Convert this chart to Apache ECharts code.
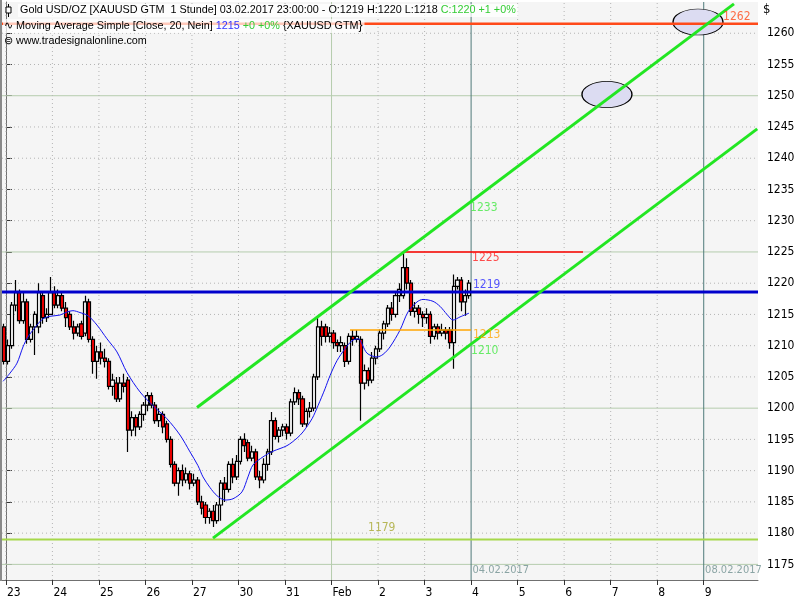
<!DOCTYPE html>
<html><head><meta charset="utf-8">
<script src="https://cdn.jsdelivr.net/npm/echarts@6/dist/echarts.min.js"></script>
<style>html,body{margin:0;padding:0;background:#fff}#c{width:800px;height:600px}</style>
</head><body><div id="c"></div>
<script>
// ---- data ----
const dayLabels = ['23','24','25','26','27','30','31','Feb','2','3','4','5','6','7','8','9'];
const dayTicks = [0,1,2,3,4,5,6,7,8,9,10,11,12,13,14,15];
const yTicks = [1175,1180,1185,1190,1195,1200,1205,1210,1215,1220,1225,1230,1235,1240,1245,1250,1255,1260];
const solidY = [1175,1200,1225,1250];
const dottedY = [1180,1185,1190,1195,1205,1210,1215,1220,1230,1235,1240,1245,1255,1260];
const dottedX = [0,1,2,3,4,5,6,8,9,11,12,13,14];
const monthX = [7];
const markerX = [10,15];
const markerText = ['04.02.2017','08.02.2017'];

// 2-hour candles (slot index 0..120)
const open = [
1213,1207.5,1210,1216.5,1218.5,1214,1217,1211,1213,1213,
1218,1214.5,1215,1218.5,1216.5,1218,1216,1215,1213,1212,
1213.5,1212,1217,1211,1207.5,1209,1208,1207.5,1203.5,1204,
1201.5,1204,1204.5,1196.5,1198.5,1197,1199,1200.5,1202,1200.5,
1198,1199,1197.5,1195,1191,1188,1190,1188.5,1189.5,1188,
1188.5,1185,1184.5,1182.5,1183.5,1182,1184.5,1188,1187,1191,
1189,1191.5,1195,1194.5,1192,1193,1189,1188.5,1191,1193,
1198,1195.5,1196.5,1197,1196,1201,1202.5,1201.5,1197.5,1199.5,
1200,1205,1213,1213,1211.5,1212,1210.5,1210,1210,1207.5,
1211.5,1211,1211,1204,1206,1204.5,1208,1209.5,1212,1213.5,
1216,1215,1218,1218,1222.5,1220,1215.5,1216,1215,1214.5,
1215,1211.5,1213,1212,1212.5,1212.5,1210.5,1219.5,1220.5,1217,1218];
const close = [
1207.5,1210,1216.5,1218.5,1214,1217,1211,1213,1215,1218.5,
1214.5,1215,1218.5,1216.5,1218,1216,1214.5,1213,1212,1213,
1211.5,1217,1211,1207.5,1209,1208,1207.5,1203.5,1204.5,1201.5,
1204,1203.5,1196.5,1198.5,1197,1199,1200.5,1202,1200.5,1198,
1199,1197,1195,1191,1188,1190,1188.5,1189.5,1188,1188.5,
1185,1184,1182.5,1183.5,1182,1184.5,1188,1187,1191,1189,
1191.5,1195,1194,1192,1193,1189,1188.5,1191,1193,1198,
1195.5,1196.5,1197,1196,1201,1202.5,1201.5,1197.5,1199.5,1200,
1205,1213,1211.5,1211.5,1212,1210.5,1210,1210.5,1207.5,1211.5,
1211,1211.5,1204,1206,1204.5,1208,1209.5,1212,1213.5,1216,
1215,1218,1219,1222.5,1220,1215.5,1216,1215,1214.5,1215,
1211.5,1213,1212,1212.5,1212,1210.5,1219.5,1220.5,1217,1218,1220];
const low = [
1207,1207,1209.5,1215.5,1213.5,1213.5,1210.3,1210.5,1208.5,1212,
1213.5,1213.8,1215,1216,1216,1215.5,1213,1212.5,1211,1211.5,
1211,1211.5,1210.5,1205.5,1204.7,1207,1206.5,1203,1202,1201,
1201,1202.5,1193,1195.5,1195.5,1196.5,1198,1199.5,1200,1197.5,
1197,1196,1194.5,1190.5,1187.5,1186,1187.5,1188,1187,1187.5,
1184.5,1183,1181.5,1181.5,1181,1181.5,1182,1185,1186.5,1188,
1188.5,1191,1193,1191.5,1191.5,1188.5,1187.2,1188,1190,1192.5,
1195,1194.5,1195.5,1195,1195.5,1200.5,1200.5,1197,1197,1198.5,
1199.5,1204.5,1210,1210.5,1210.5,1209.5,1209,1209,1206.6,1207,
1210,1210.5,1198,1203,1203.5,1204,1207,1209,1211,1213,
1214,1214.5,1217,1217.5,1219,1214.8,1214.5,1213.5,1213,1213.5,
1210.3,1211,1211,1211.5,1211,1209.5,1206.3,1219,1215.5,1214.8,1217.5];
const high = [
1213.5,1211,1217,1220.5,1219,1218.5,1217.5,1213.5,1215.5,1220,
1218.5,1216,1221,1219.5,1219,1218.5,1217,1215.5,1214,1213.5,
1214,1218,1217.5,1211.5,1210,1210.5,1209.5,1208,1205.5,1205,
1205,1205.5,1205,1199.5,1199,1199.5,1201,1202.6,1202.5,1201,
1200,1199.5,1198,1195.5,1191.5,1190.5,1191,1190.5,1190,1189.5,
1189,1186,1185,1184,1184.5,1185,1188.5,1189,1191.5,1192,
1192.5,1195.5,1196,1195,1194,1193.5,1190,1192,1193.5,1199.4,
1198.5,1197,1197.5,1197.5,1201.5,1203.3,1203,1202,1200,1201,
1205.5,1214.6,1214,1213.5,1213,1212.5,1211,1211.5,1210.5,1212,
1212.5,1212.5,1211.5,1207,1206.5,1209,1210,1212.6,1214,1216.5,
1217,1218.5,1220,1225.1,1224,1220.5,1217,1216.5,1215.5,1216,
1215.5,1213.5,1213.5,1213.5,1213,1213,1221.4,1221,1221,1219,1220.5];

// Moving average (x in days, value)
const maX = [-0.06,0.088,0.239,0.368,0.475,0.669,0.797,0.948,1.163,1.313,1.442,1.593,1.765,1.958,2.173,2.388,2.603,2.883,3.162,3.463,3.743,3.958,4.129,4.237,4.387,4.537,4.710,4.882,5.075,5.204,5.311,5.526,5.741,6.042,6.258,6.387,6.580,6.709,6.860,6.967,7.117,7.289,7.440,7.569,7.762,7.977,8.106,8.257,8.472,8.644,8.837,8.966,9.181,9.331,9.482,9.611,9.761,9.955];
const maV = [1204.3,1205.6,1207.2,1209.8,1211.4,1213.3,1214.3,1214.7,1214.9,1215.4,1215.6,1215.3,1214.8,1213.3,1211.1,1209,1205.7,1202.6,1200.4,1198.3,1195.7,1193,1190.8,1189,1187.3,1186,1185.3,1185.5,1186.6,1189,1190.9,1192.2,1193.1,1194,1195.2,1196.2,1198.3,1200.4,1203.1,1205.2,1207.6,1209.5,1210.8,1211.1,1208.8,1208.2,1208.6,1209.8,1212.5,1215.4,1217,1217.4,1217.1,1216.3,1215,1214.1,1214.6,1215.2];

// drawn lines (days, price)
const upperChannel = [[4.108,1200.1],[15.65,1264.7]];
const lowerChannel = [[4.452,1179.2],[16.15,1244.7]];
const redTop = [[-0.0833,1261.5],[16.1667,1261.5]];
const red1225 = [[8.579,1225],[12.405,1225]];
const blue1219 = [[-0.0833,1218.6],[16.1667,1218.6]];
const orange1213 = [[7.397,1212.5],[9.998,1212.5]];
const green1179 = [[-0.0833,1179],[16.1667,1179]];
const ellipses = [[14.877,1261.8],[12.92,1250.2]];

// level labels
const lvlText = ['1262','1233','1225','1219','1213','1210','1179'];
const lvlX = [15.415,9.977,10.02,10.04,10.04,9.998,7.784];
const lvlY = [1262.6,1232.0,1224.1,1219.7,1211.7,1209.2,1180.8];
const lvlColor = ['#ff4a1a','#44e844','#ff2020','#2a2aff','#ffa500','#44e844','#a8a830'];

// ---- chart ----
const N = 195, XMIN = -1/12, XMAX = 194/12;
const cats = Array.from({length:N}, (_, i) => String(i));
const candleData = open.map((o, i) => [o, close[i], low[i], high[i]]);
const NARROW = "'Liberation Sans Narrow','DejaVu Sans Condensed','Liberation Sans',sans-serif";
const HFONT = "10.8px 'Liberation Sans', sans-serif";

const series = [];
function seg(data, color, width, type, z) {
  series.push({type:'line', xAxisIndex:1, data:data, symbol:'none', silent:true, animation:false,
    lineStyle:{color:color, width:width, type:type||'solid'}, z:z||1});
}
dottedY.forEach(v => seg([[XMIN,v],[XMAX,v]], '#b4b4b4', 1, [1,3], 1));
solidY.forEach(v => seg([[XMIN,v],[XMAX,v]], '#b5ccad', 1, 'solid', 1));
dottedX.forEach(d => seg([[d,1172.5],[d,1265]], '#b4b4b4', 1, [1,3], 1));
monthX.forEach(d => seg([[d,1172.5],[d,1265]], '#b5ccad', 1, 'solid', 1));
markerX.forEach(d => seg([[d,1172.5],[d,1265]], '#4f7a7a', 1, 'solid', 1));

series.push({type:'scatter', xAxisIndex:1, data:ellipses, symbol:'circle', symbolSize:[50,26], silent:true,
  itemStyle:{color:'#dcdcf2', borderColor:'#000', borderWidth:1, opacity:1}, z:2});

series.push({type:'candlestick', xAxisIndex:0, data:candleData, barWidth:3.6, z:3,
  itemStyle:{color:'#ffffff', color0:'#ff0000', borderColor:'#000', borderColor0:'#000', borderWidth:1.2}});

series.push({type:'line', xAxisIndex:1, data:maX.map((x,i)=>[x,maV[i]]), symbol:'none', smooth:0.3,
  lineStyle:{color:'#1414f0', width:1}, z:4});

seg(redTop, '#ff4a1a', 2.5, 'solid', 5);
seg(red1225, '#ff0000', 1.5, 'solid', 5);
seg(orange1213, '#ffa500', 1.5, 'solid', 5);
seg(green1179, '#a6d84a', 2, 'solid', 5);
seg(blue1219, '#0000cc', 3, 'solid', 6);
seg(upperChannel, '#22e622', 3, 'solid', 6);
seg(lowerChannel, '#22e622', 3, 'solid', 6);

series.push({type:'scatter', xAxisIndex:1, symbolSize:0, silent:true, z:7,
  data: lvlText.map((t,i)=>({value:[lvlX[i], lvlY[i]],
    label:{show:true, position:'right', distance:0, formatter:t, color:lvlColor[i], fontSize:12, fontFamily:NARROW}}))});
series.push({type:'scatter', xAxisIndex:1, symbolSize:0, silent:true, z:7,
  data: markerText.map((t,i)=>({value:[markerX[i]+0.03, 1174.1],
    label:{show:true, position:'right', distance:0, formatter:t, color:'#6f9090', fontSize:11, fontFamily:NARROW}}))});

const chart = echarts.init(document.getElementById('c'));
chart.setOption({
  animation:false,
  backgroundColor:'#ffffff',
  grid:{left:2, right:42, top:2, bottom:20, show:true, backgroundColor:'#f5f5f5', borderWidth:0},
  xAxis:[
    {type:'category', data:cats, show:false, boundaryGap:true},
    {type:'value', min:XMIN, max:XMAX, position:'bottom',
     axisLine:{show:true, lineStyle:{color:'#707070'}},
     axisTick:{show:true, customValues:dayTicks, length:5, lineStyle:{color:'#333'}},
     axisLabel:{show:true, customValues:dayTicks, formatter:v=>dayLabels[Math.round(v)], align:'left', padding:[0,0,0,1],
       margin:7, color:'#000', fontSize:12, fontFamily:NARROW},
     splitLine:{show:false}}
  ],
  yAxis:{type:'value', position:'right', min:1172.5, max:1265,
    axisLine:{show:true, lineStyle:{color:'#707070'}},
    axisTick:{show:true, customValues:yTicks, length:6, lineStyle:{color:'#333'}},
    axisLabel:{show:true, customValues:yTicks, formatter:v=>String(v), margin:9, color:'#000', fontSize:12, fontFamily:NARROW},
    splitLine:{show:false}},
  series:series,
  graphic:[
    {type:'rect', shape:{x:0,y:0,width:2,height:581}, style:{fill:'#8a8a8a'}, z:100},
    {type:'text', x:18, y:4, z:100, style:{
      text:'{k|Gold USD/OZ [XAUUSD GTM  1 Stunde] 03.02.2017 23:00:00 - O:1219 H:1220 L:1218 }{g|C:1220 +1 +0%}',
      rich:{k:{fill:'#000', font:HFONT}, g:{fill:'#33cc33', font:HFONT}},
      backgroundColor:'rgba(255,255,255,0.75)', padding:[1,2,1,2]}},
    {type:'line', shape:{x1:8.5,y1:4,x2:8.5,y2:17}, style:{stroke:'#000', lineWidth:1}, z:101},
    {type:'rect', shape:{x:6,y:7,width:5,height:6}, style:{fill:'#fff', stroke:'#000', lineWidth:1}, z:101},
    {type:'text', x:3, y:19, z:100, style:{
      text:'{k|∿ Moving Average Simple [Close, 20, Nein] }{b|1215}{g| +0 +0%}{k| {XAUUSD GTM}}',
      rich:{k:{fill:'#000', font:HFONT}, b:{fill:'#3333ff', font:HFONT}, g:{fill:'#33cc33', font:HFONT}},
      backgroundColor:'rgba(255,255,255,0.7)', padding:[1,2,1,1]}},
    {type:'text', x:4, y:36, z:100, style:{text:'⊜ www.tradesignalonline.com', fill:'#000', font:HFONT}},
    {type:'text', x:763, y:3, z:100, style:{text:'$', fill:'#000', font:"13px " + NARROW}}
  ]
});
</script></body></html>
